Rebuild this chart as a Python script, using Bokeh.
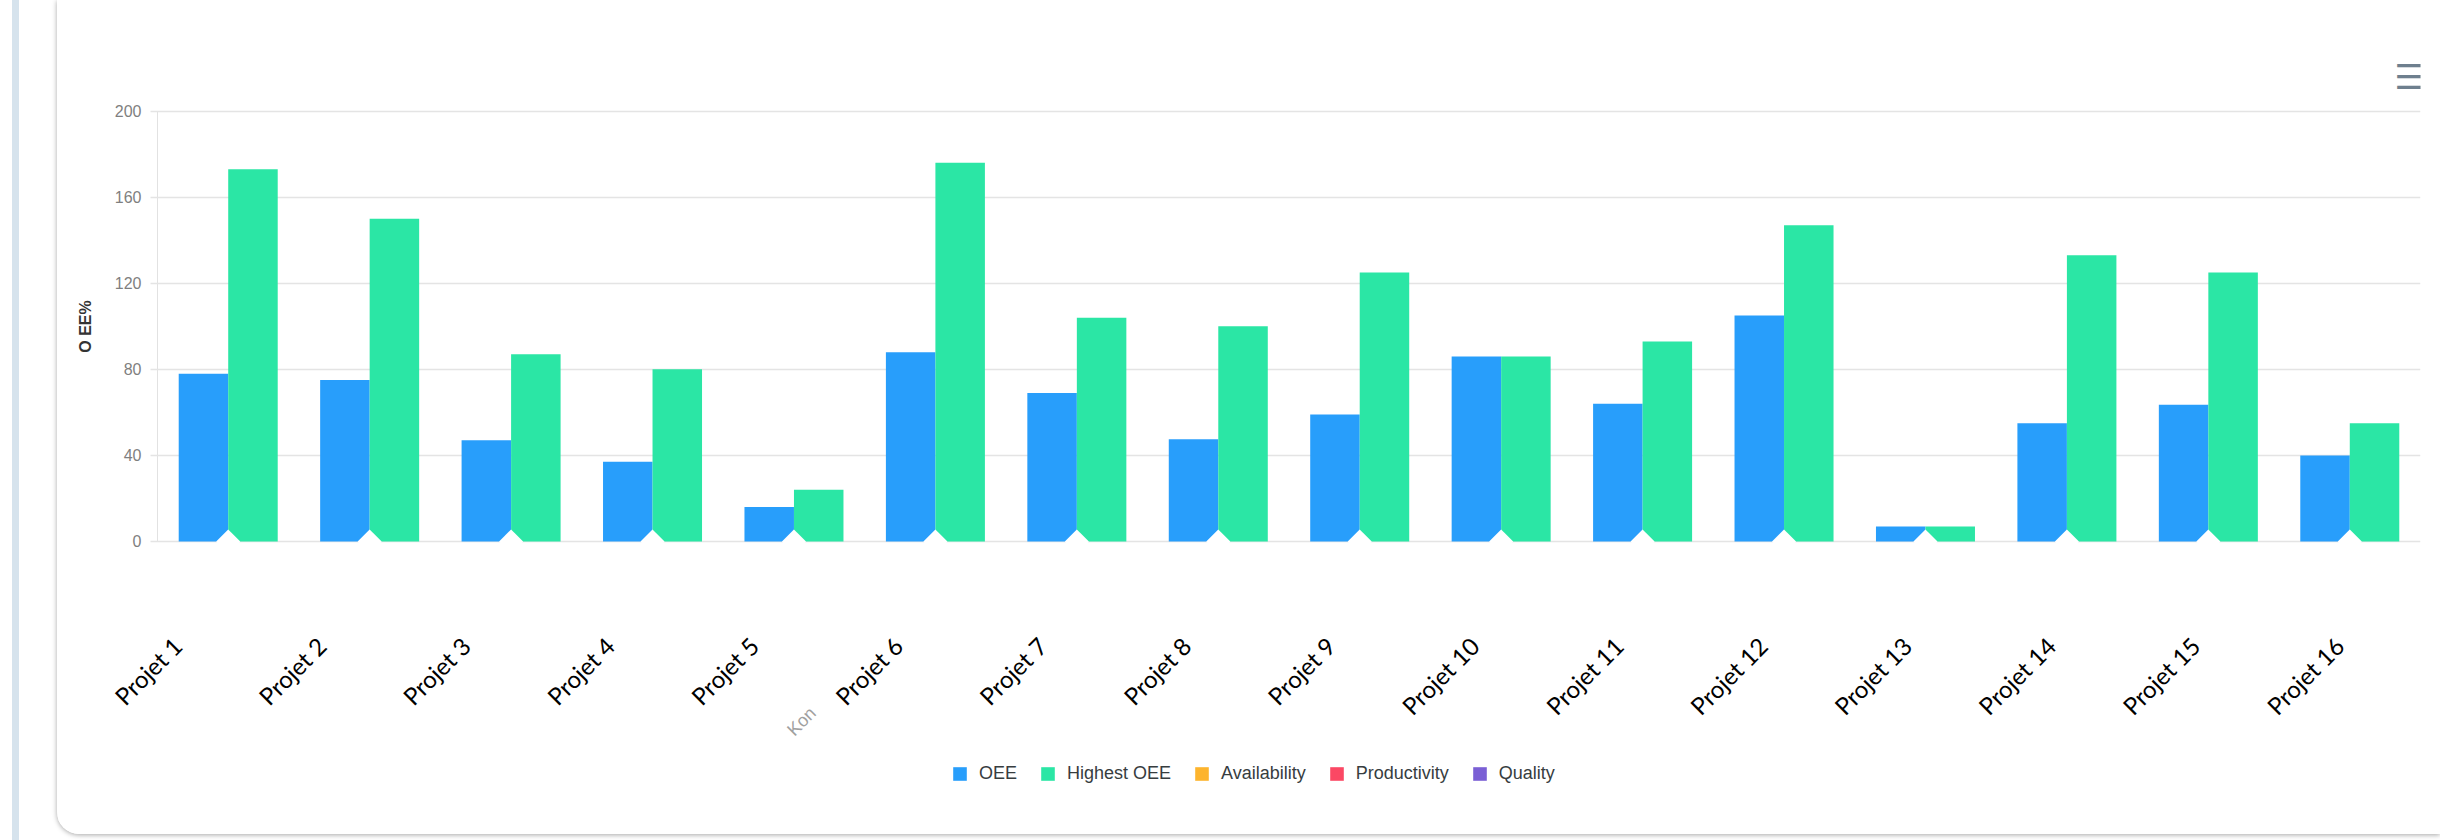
import math

from bokeh.core.properties import value
from bokeh.embed import file_html
from bokeh.layouts import row
from bokeh.models import (ColumnDataSource, Div, FixedTicker, Label, LabelSet,
                          Legend, LegendItem, Range1d)
from bokeh.plotting import figure
from bokeh.resources import INLINE
from bokeh.transform import dodge

# ---- data -------------------------------------------------------------
projects = ["Projet 1", "Projet 2", "Projet 3", "Projet 4", "Projet 5",
            "Projet 6", "Projet 7", "Projet 8", "Projet 9", "Projet 10",
            "Projet 11", "Projet 12", "Projet 13", "Projet 14", "Projet 15",
            "Projet 16"]
oee = [78, 75, 47, 37, 16, 88, 69, 47.5, 59, 86, 64, 105, 7, 55, 63.5, 40]
highest_oee = [173, 150, 87, 80, 24, 176, 104, 100, 125, 86, 93, 147, 7, 133,
               125, 55]
y_ticks = [0, 40, 80, 120, 160, 200]
series_names = ["OEE", "Highest OEE", "Availability", "Productivity", "Quality"]
series_colors = ["#289efb", "#2be6a5", "#fdb42d", "#fb4864", "#7a5fd5"]

# each project occupies one unit slot on the x scale
n = len(projects)
slot_center = [i + 0.5 for i in range(n)]

# ---- figure -----------------------------------------------------------
# the frame fills the whole card; the value axis is pinned at slot 0 and only
# covers 0..200, the room around it holds tick labels, names and legend
W, H = 2383, 834
plot_w = 2363  # frame width (card width minus right border)
p = figure(
    width=W, height=H,
    x_range=Range1d(-0.707, n), y_range=Range1d(-136.2, 251.45),
    x_axis_location=None,
    output_backend="svg", toolbar_location=None,
    min_border_left=0, min_border_right=W - plot_w,
    min_border_top=0, min_border_bottom=0,
    background_fill_color="white", border_fill_color="white",
    outline_line_color=None,
)
p.xgrid.visible = False
p.ygrid.visible = False

bar_w = 0.35
src = dict(pos=slot_center, project=projects, oee=oee, highest=highest_oee)
r_oee = p.vbar(x=dodge("pos", -bar_w / 2), top="oee", width=bar_w, source=src,
               color=series_colors[0], line_color=None)
r_high = p.vbar(x=dodge("pos", bar_w / 2), top="highest", width=bar_w,
                source=src, color=series_colors[1], line_color=None)
# series without values (NaN, nothing drawn): they only appear in the legend
nan = float("nan")
r_empty = [p.vbar(x=[nan], top=[nan], width=bar_w, color=c, line_color=None)
           for c in series_colors[2:]]

# small white notch at the foot of every group
p.scatter(x=slot_center, y=[0] * n, marker="square", angle=math.pi / 4,
          size=17, fill_color="white", line_color=None)

# ---- y axis (its long inner ticks act as the horizontal grid) -------------
ya = p.yaxis[0]
ya.fixed_location = 0
ya.ticker = FixedTicker(ticks=y_ticks)
ya.bounds = (y_ticks[0], y_ticks[-1])
ya.axis_line_color = "#e2e2e2"
ya.major_tick_line_color = "#e4e4e4"
ya.major_tick_line_width = 1.5
ya.major_tick_out = 7
ya.major_tick_in = 2263
ya.minor_tick_line_color = None
ya.major_label_standoff = 9
ya.major_label_text_font = "Liberation Sans"
ya.major_label_text_font_size = "16px"
ya.major_label_text_color = "#7f7f7f"
ya.axis_label = "O EE%"
ya.axis_label_text_font = "Liberation Sans"
ya.axis_label_text_font_style = "bold"
ya.axis_label_text_font_size = "16px"
ya.axis_label_text_color = "#333333"
ya.axis_label_standoff = 18
ya.level = "underlay"

# ---- project names, rotated, below the bars -------------------------------
p.extra_x_ranges = {"names": Range1d(-0.3326, 16.062)}
names_src = ColumnDataSource(dict(x=slot_center, y=[H - 641] * n, text=projects))
p.add_layout(LabelSet(
    source=names_src, x="x", y="y", text="text",
    x_range_name="names", y_units="screen",
    angle=math.pi / 4, text_align="right", text_baseline="middle",
    text_font=value("Lato"), text_font_size="24px", text_color="#000000",
))

# ---- legend ------------------------------------------------------------
legend = Legend(
    items=[LegendItem(label=nm, renderers=[r])
           for nm, r in zip(series_names, [r_oee, r_high] + r_empty)],
    location=(894, H - 784), orientation="horizontal",
    padding=0, margin=0, spacing=22, label_standoff=11,
    glyph_width=17, glyph_height=17, label_height=17,
    border_line_color=None, background_fill_alpha=0,
    label_text_font="Liberation Sans", label_text_font_size="18px",
    label_text_color="#373d3f",
)
p.add_layout(legend)

# ---- extra texts ---------------------------------------------------------
p.add_layout(Label(x=744, y=H - 721, x_units="screen", y_units="screen",
                   text="Kon", angle=math.pi / 4, text_align="center",
                   text_baseline="middle", text_font="Liberation Sans",
                   text_font_size="18px", text_color="#a0a0a0"))
p.add_layout(Label(x=2352, y=H - 76, x_units="screen", y_units="screen",
                   text="☰", text_align="center", text_baseline="middle",
                   text_font="DejaVu Sans", text_font_size="34px",
                   text_color="#6e7f8e"))

# card look
p.styles = {
    "border-bottom-left-radius": "22px",
    "box-shadow": "0px 1px 5px rgba(0, 0, 0, 0.35)",
    "overflow": "hidden",
}
p.margin = (0, 0, 0, 38)

stripe = Div(width=7, height=840, margin=(0, 0, 0, 12),
             styles={"background-color": "#d6e3ed"})

layout = row(stripe, p, spacing=0)

with open("out.html", "w") as f:
    f.write(file_html(layout, INLINE))
